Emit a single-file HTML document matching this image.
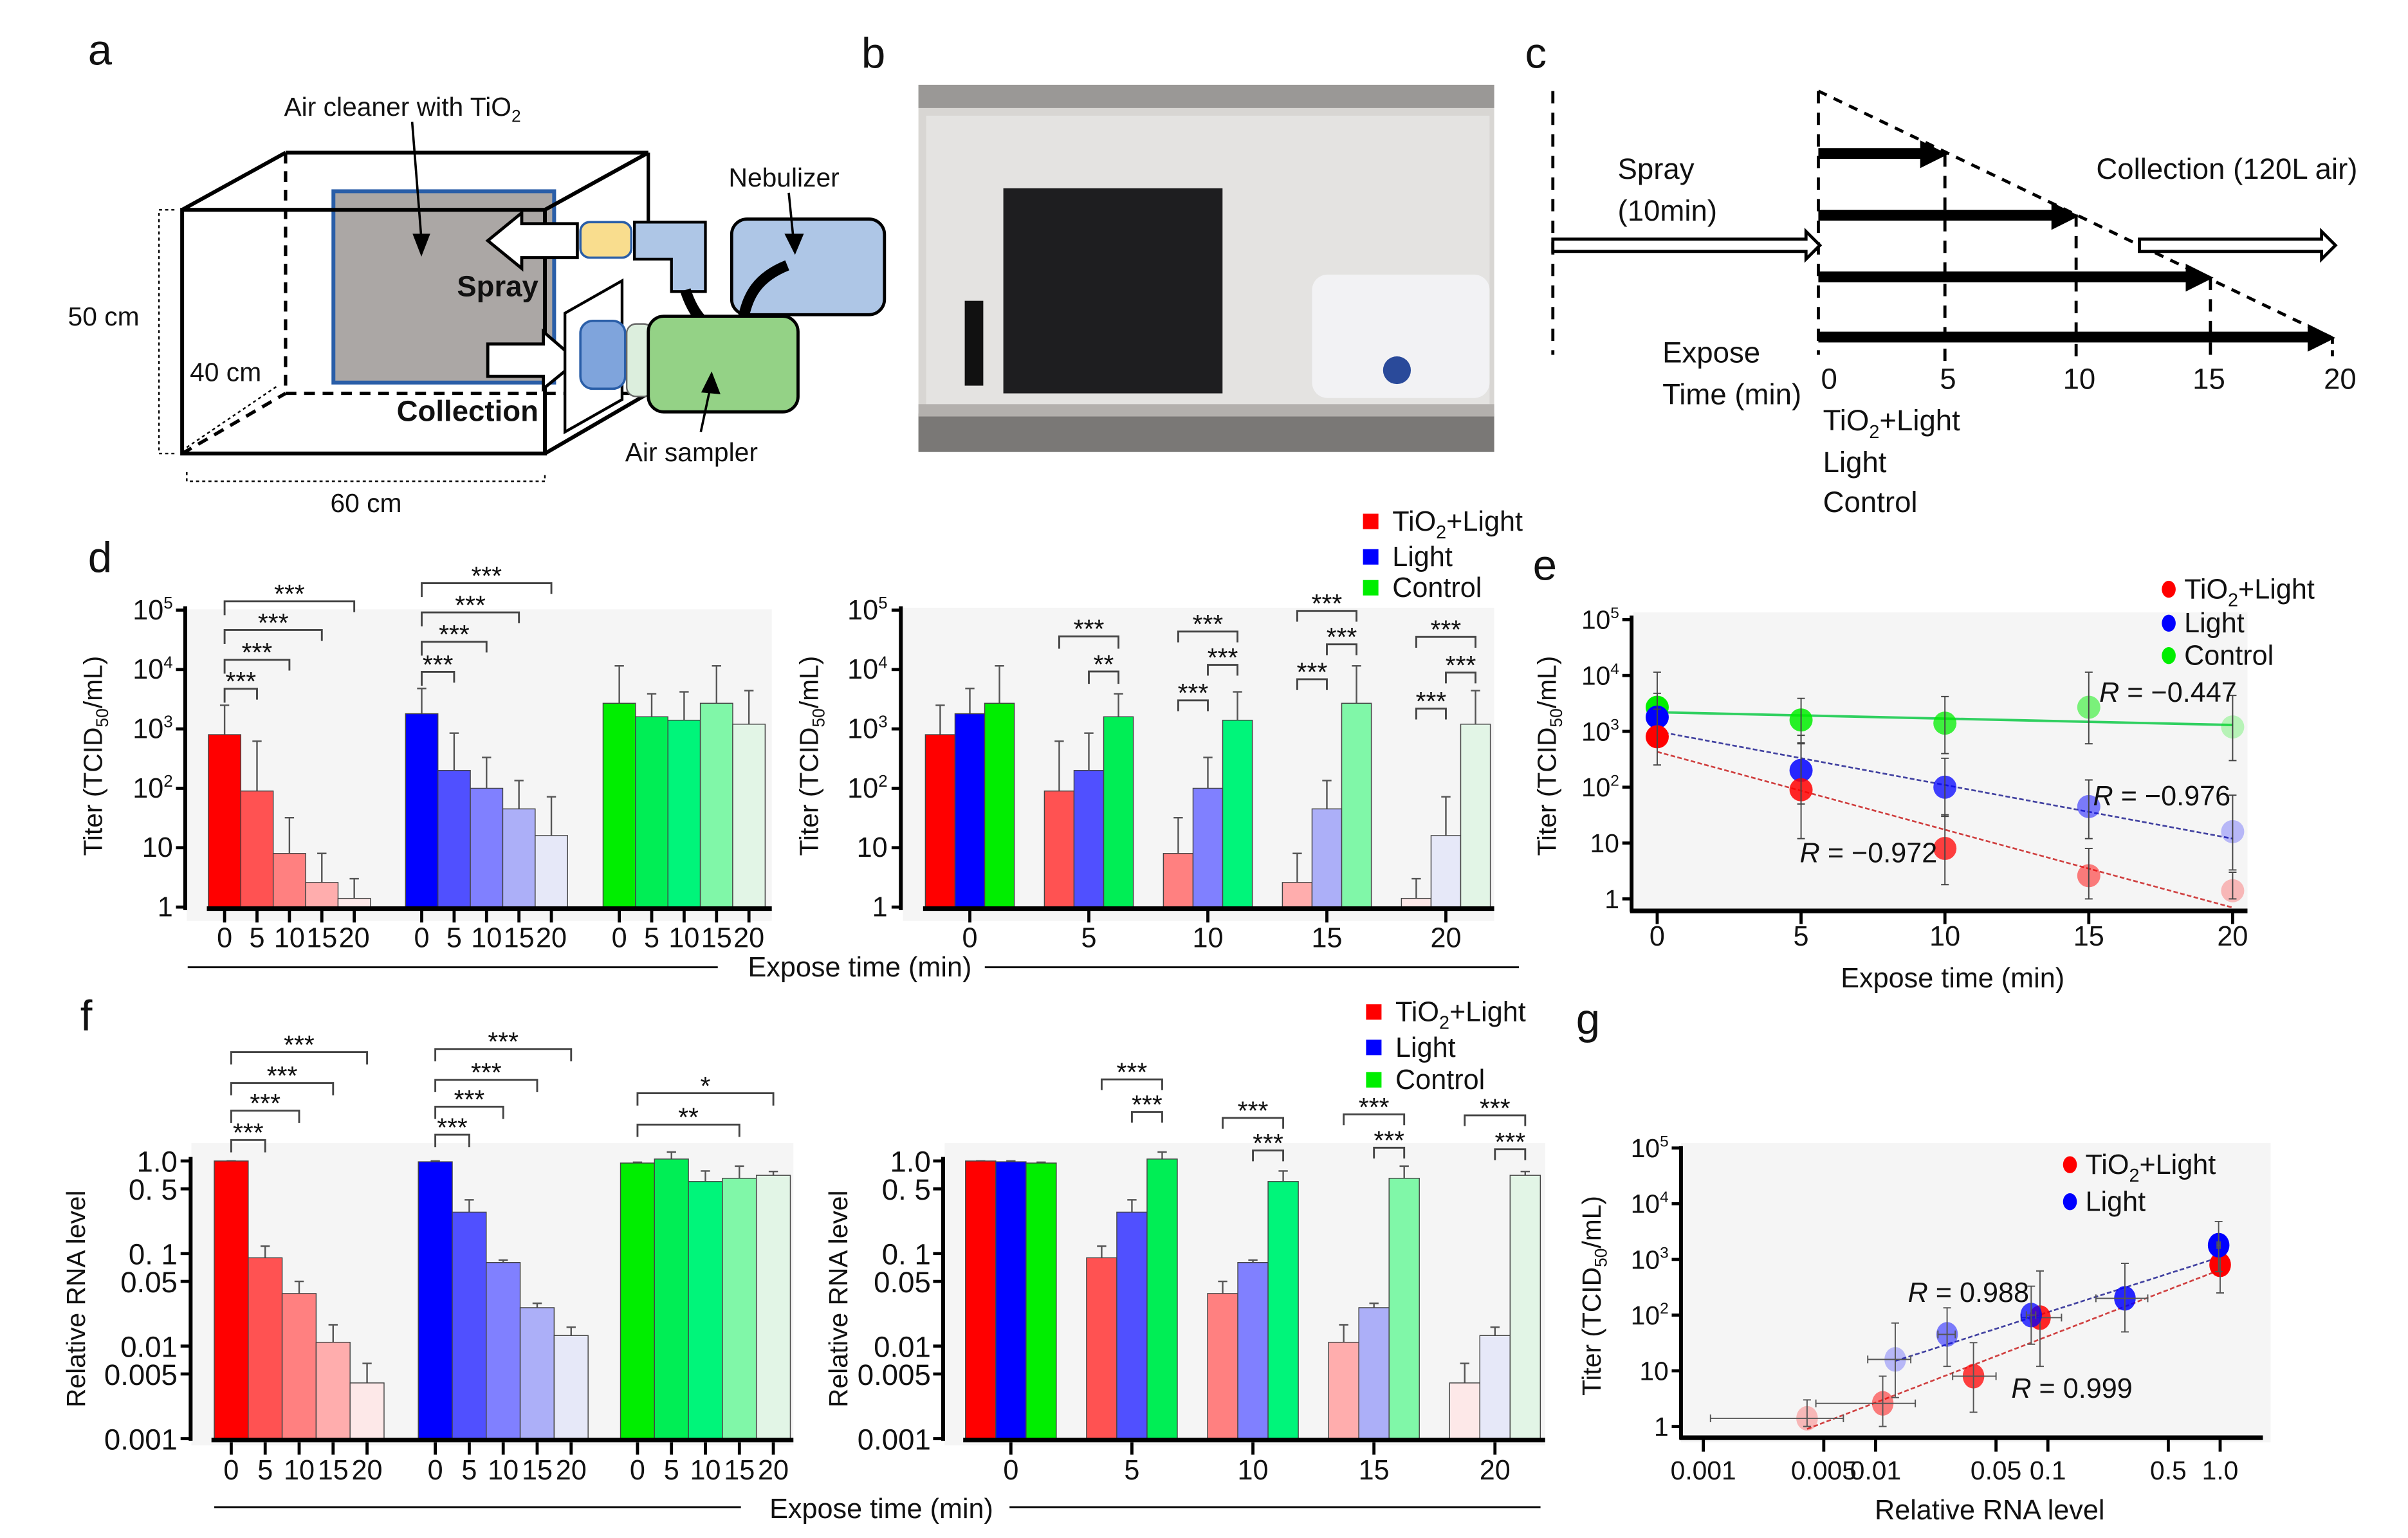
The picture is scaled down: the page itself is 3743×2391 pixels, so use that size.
<!DOCTYPE html>
<html><head><meta charset="utf-8"><style>
html,body{margin:0;padding:0;background:#fff;}
svg{display:block;}
text{font-family:"Liberation Sans Narrow","Liberation Sans",sans-serif;fill:#111;}
.w{font-family:"Liberation Sans",sans-serif;}
</style></head><body>
<svg id="fig" xmlns="http://www.w3.org/2000/svg" width="3743" height="2391" viewBox="0 0 1560 997" preserveAspectRatio="none">
<rect x="0" y="0" width="1560" height="997" fill="#fff"/>
<!-- Panel a -->
<g fill="none" stroke="#000">
<text x="57" y="42" font-size="28" stroke="none">a</text>
<rect x="216" y="124" width="143" height="124" fill="#aba7a5" stroke="#2a5ea8" stroke-width="2.5"/>
<line x1="185" y1="99" x2="420" y2="99" stroke-width="2.5"/>
<line x1="185" y1="99" x2="185" y2="255" stroke-width="2.2" stroke-dasharray="7,5"/>
<line x1="185" y1="255" x2="420" y2="255" stroke-width="2.2" stroke-dasharray="7,5"/>
<line x1="420" y1="99" x2="420" y2="143" stroke-width="2.2"/>
<line x1="118" y1="136" x2="185" y2="99" stroke-width="2.5"/>
<line x1="353" y1="136" x2="420" y2="99" stroke-width="2.5"/>
<line x1="118" y1="294" x2="185" y2="255" stroke-width="2.2" stroke-dasharray="7,5"/>
<line x1="353" y1="294" x2="420" y2="255" stroke-width="2.5"/>
<rect x="118" y="136" width="235" height="158" stroke-width="2.5"/>
<path d="M374,145 L338,145 L338,138 L316,156 L338,174 L338,167 L374,167 Z" fill="#fff" stroke-width="2"/>
<path d="M316,223 L352,223 L352,215 L374,234 L352,252 L352,244 L316,244 Z" fill="#fff" stroke-width="2"/>
<path d="M366,203 L403,182 L403,259 L366,280 Z" fill="#fff" stroke-width="1.8"/>
<rect x="376" y="144" width="33" height="23" rx="6" fill="#f9dd8e" stroke="#2a5ea8" stroke-width="1.5"/>
<path d="M411,144 L457,144 L457,189 L435,189 L435,168 L411,168 Z" fill="#aec6e6" stroke="#000" stroke-width="1.8"/>
<rect x="474" y="142" width="99" height="62" rx="10" fill="#aec6e6" stroke-width="2"/>
<path d="M510,172 C490,180 485,192 482,204 C478,218 455,222 444,188" stroke-width="7"/>
<rect x="376" y="208" width="29" height="44" rx="8" fill="#7fa4dc" stroke="#2a5ea8" stroke-width="1.5"/>
<rect x="406" y="210" width="17" height="47" rx="6" fill="#dceedd" stroke="#666" stroke-width="1"/>
<rect x="420" y="205" width="97" height="62" rx="10" fill="#94d286" stroke-width="2"/>
<line x1="267" y1="79" x2="273" y2="155" stroke-width="1.5"/><path d="M268,152 L273,165 L278,152 Z" fill="#000"/>
<line x1="511" y1="125" x2="514" y2="155" stroke-width="1.5"/><path d="M509,152 L515,164 L520,152 Z" fill="#000"/>
<line x1="454" y1="280" x2="460" y2="252" stroke-width="1.5"/><path d="M455,254 L461,242 L466,255 Z" fill="#000"/>
<path d="M113,136 L103,136 L103,294 L113,294" stroke-width="1" stroke-dasharray="2,2"/>
<path d="M121,306 L121,312 L353,312 L353,306" stroke-width="1" stroke-dasharray="2,2"/>
<line x1="121" y1="290" x2="180" y2="250" stroke-width="1" stroke-dasharray="2,2"/>
<g stroke="none">
<text x="184" y="75" font-size="17">Air cleaner with TiO<tspan font-size="11" dy="4">2</tspan></text>
<text x="472" y="121" font-size="17">Nebulizer</text>
<text x="296" y="192" font-size="19" font-weight="bold">Spray</text>
<text x="257" y="273" font-size="19" font-weight="bold">Collection</text>
<text x="405" y="299" font-size="17">Air sampler</text>
<text x="44" y="211" font-size="17">50 cm</text>
<text x="123" y="247" font-size="17">40 cm</text>
<text x="214" y="332" font-size="17">60 cm</text>
</g>
</g>
<!-- Panel b photo -->
<g>
<text x="558" y="44" font-size="28">b</text>
<rect x="595" y="55" width="373" height="238" fill="#d8d6d3"/>
<rect x="595" y="55" width="373" height="15" fill="#9a9896"/>
<rect x="600" y="75" width="365" height="195" fill="#e4e3e1"/>
<rect x="650" y="122" width="142" height="133" fill="#1e1e20"/>
<rect x="625" y="195" width="12" height="55" fill="#111"/>
<rect x="850" y="178" width="115" height="80" rx="10" fill="#f2f2f4"/>
<circle cx="905" cy="240" r="9" fill="#2a4a9a"/>
<rect x="595" y="268" width="373" height="25" fill="#7a7876"/>
<rect x="595" y="262" width="373" height="8" fill="#b3b0ad"/>
</g>
<!-- Panel c -->
<g stroke="#000" fill="none">
<text x="988" y="44" font-size="28" stroke="none">c</text>
<line x1="1006" y1="59" x2="1006" y2="230" stroke-width="2" stroke-dasharray="8,6"/>
<line x1="1178" y1="59" x2="1178" y2="230" stroke-width="2" stroke-dasharray="8,6"/>
<line x1="1178" y1="59" x2="1511" y2="219" stroke-width="2" stroke-dasharray="6,5"/>
<line x1="1260" y1="100" x2="1260" y2="234" stroke-width="2" stroke-dasharray="8,6"/>
<line x1="1345" y1="139" x2="1345" y2="234" stroke-width="2" stroke-dasharray="8,6"/>
<line x1="1432" y1="180" x2="1432" y2="234" stroke-width="2" stroke-dasharray="8,6"/>
<line x1="1511" y1="219" x2="1511" y2="234" stroke-width="2" stroke-dasharray="4,4"/>
<g fill="#000" stroke="none">
<rect x="1178" y="96" width="68" height="7"/><path d="M1244,91 L1262,100 L1244,109 Z"/>
<rect x="1178" y="136" width="153" height="7"/><path d="M1329,131 L1347,140 L1329,149 Z"/>
<rect x="1178" y="176" width="240" height="7"/><path d="M1416,171 L1434,180 L1416,189 Z"/>
<rect x="1178" y="215" width="319" height="7"/><path d="M1495,210 L1513,219 L1495,228 Z"/>
</g>
<path d="M1006,155 L1170,155 L1170,150 L1179,159 L1170,168 L1170,163 L1006,163 Z" fill="#fff" stroke-width="2"/>
<path d="M1386,155 L1504,155 L1504,150 L1513,159 L1504,168 L1504,163 L1386,163 Z" fill="#fff" stroke-width="2"/>
<g stroke="none" font-size="19">
<text x="1048" y="116">Spray</text>
<text x="1048" y="143">(10min)</text>
<text x="1358" y="116">Collection (120L air)</text>
<text x="1077" y="235">Expose</text>
<text x="1077" y="262">Time (min)</text>
<text x="1185" y="252" text-anchor="middle">0</text>
<text x="1262" y="252" text-anchor="middle">5</text>
<text x="1347" y="252" text-anchor="middle">10</text>
<text x="1431" y="252" text-anchor="middle">15</text>
<text x="1516" y="252" text-anchor="middle">20</text>
<text x="1181" y="279">TiO<tspan font-size="12" dy="5">2</tspan><tspan dy="-5">+Light</tspan></text>
<text x="1181" y="306">Light</text>
<text x="1181" y="332">Control</text>
</g>
</g>
</svg>
<script>
// ---------- data ----------
const times = [0, 5, 10, 15, 20];
const titerTiO2 = [800, 90, 8, 2.6, 1.4];
const titerTiO2Hi = [2500, 620, 32, 8, 3];
const titerTiO2Lo = [250, 12, 1.8, 1.0, 1.0];
const titerLight = [1800, 200, 100, 45, 16];
const titerLightHi = [4800, 850, 330, 135, 72];
const titerLightLo = [600, 50, 30, 12, 3.3];
const titerControl = [2700, 1600, 1400, 2700, 1200];
const titerControlHi = [11500, 3900, 4200, 11500, 4400];
const titerControlLo = [600, 600, 400, 600, 300];
const rnaTiO2 = [1.0, 0.09, 0.037, 0.011, 0.004];
const rnaTiO2Hi = [1.0, 0.12, 0.05, 0.017, 0.0065];
const rnaTiO2Lo = [1.0, 0.07, 0.028, 0.0045, 0.0011];
const rnaLight = [0.98, 0.28, 0.08, 0.026, 0.013];
const rnaLightHi = [1.0, 0.38, 0.085, 0.029, 0.016];
const rnaLightLo = [0.96, 0.19, 0.075, 0.023, 0.009];
const rnaControl = [0.95, 1.05, 0.6, 0.65, 0.7];
const rnaControlHi = [0.97, 1.25, 0.78, 0.88, 0.77];
const fitEStart = [430, 1000, 2200];
const fitEEnd = [0.7, 12, 1300];
const fitGX0 = [0.004, 0.013];
const fitGY0 = [0.9, 15];
const fitGX1 = [1, 1];
const fitGY1 = [650, 1100];
const titerTicks = [1, 10, 100, 1000, 10000, 100000];
const titerTickLabels = ["1", "10", "10|2", "10|3", "10|4", "10|5"];
const rnaTicks = [1, 0.5, 0.1, 0.05, 0.01, 0.005, 0.001];
const rnaTickLabels = ["1.0", "0. 5", "0. 1", "0.05", "0.01", "0.005", "0.001"];
const seriesNames = ["TiO2+Light", "Light", "Control"];
const palettes = [
  ['#ff0000','#ff5252','#ff8080','#ffadad','#fde8e8'],
  ['#0000ff','#5050ff','#8080ff','#acaff8','#e6e8f8'],
  ['#00ee00','#00ee55','#00f57a','#80f7a8','#e2f5e6']
];
const pointOpacity = [1, 0.85, 0.75, 0.5, 0.25];

const NS = 'http://www.w3.org/2000/svg';
const svg = document.getElementById('fig');
function mk(tag, attrs, parent) {
  const e = document.createElementNS(NS, tag);
  for (const k in attrs) e.setAttribute(k, attrs[k]);
  (parent || svg).appendChild(e);
  return e;
}
function txt(x, y, s, size, anchor, cls) {
  const t = mk('text', {x: x, y: y, 'font-size': size, 'text-anchor': anchor || 'start'});
  if (cls) t.setAttribute('class', cls);
  t.textContent = s;
  
  
  return t;
}
function supLabel(x, y, lab, size) {
  const t = mk('text', {x: x, y: y, 'font-size': size, 'text-anchor': 'end'});
  
  
  const p = lab.split('|');
  const a = mk('tspan', {}, t); a.textContent = p[0];
  if (p[1]) { const b = mk('tspan', {dy: -7, 'font-size': size * 0.6}, t); b.textContent = p[1]; }
  return t;
}
function bg(x, y, w, h, name) {
  const r = mk('rect', {x: x, y: y, width: w, height: h, fill: '#f5f5f5'});
  
  
}
function line(x1, y1, x2, y2, sw, col, name) {
  const l = mk('line', {x1: x1, y1: y1, x2: x2, y2: y2, stroke: col || '#000', 'stroke-width': sw});
  
  
  return l;
}
function bar(x, w, yTop, yBase, color, name) {
  const r = mk('rect', {x: x, y: yTop, width: w, height: yBase - yTop, fill: color, stroke: '#444', 'stroke-width': 0.6});
  
  
}
function errUp(x, y1, y2) {
  const l = mk('path', {d: `M${x},${y1}L${x},${y2}M${x-3},${y2}L${x+3},${y2}`, stroke: '#555', 'stroke-width': 1, fill: 'none'});
  
  
}
function bracket(x1, x2, y, d1, d2, label) {
  const p = mk('path', {d: `M${x1},${y+d1}L${x1},${y}L${x2},${y}L${x2},${y+d2}`, stroke: '#444', 'stroke-width': 1.2, fill: 'none'});
  
  
  const t = txt((x1 + x2) / 2, y + 1, label, 17, 'middle', 'w');
  
}
function yTitle(x, cy, rna) {
  const t = mk('text', {x: 0, y: 0, 'font-size': 17, 'text-anchor': 'middle', transform: `translate(${x},${cy}) rotate(-90)`, class: 'w'});
  
  
  if (rna) { t.textContent = 'Relative RNA level'; return; }
  const a = mk('tspan', {}, t); a.textContent = 'Titer (TCID';
  const b = mk('tspan', {dy: 4, 'font-size': 11}, t); b.textContent = '50';
  const c = mk('tspan', {dy: -4}, t); c.textContent = '/mL)';
}
function legendSquare(x, y, i) {
  const r = mk('rect', {x: x, y: y - 5, width: 10, height: 10, fill: palettes[i][0]});
  
  
  legendText(x + 19, y, i);
}
function legendDot(x, y, i) {
  const c = mk('ellipse', {cx: x, cy: y, rx: 4.5, ry: 5.5, fill: palettes[i][0]});
  
  
  legendText(x + 10, y, i);
}
function legendText(x, y, i) {
  const t = mk('text', {x: x, y: y + 6, 'font-size': 18});
  
  
  if (i === 0) {
    const a = mk('tspan', {}, t); a.textContent = 'TiO';
    const b = mk('tspan', {dy: 5, 'font-size': 12}, t); b.textContent = '2';
    const c = mk('tspan', {dy: -5}, t); c.textContent = '+Light';
  } else t.textContent = seriesNames[i];
}
const L = Math.log10;
const seriesT = [titerTiO2, titerLight, titerControl];
const seriesTHi = [titerTiO2Hi, titerLightHi, titerControlHi];
const seriesTLo = [titerTiO2Lo, titerLightLo, titerControlLo];
const seriesR = [rnaTiO2, rnaLight, rnaControl];
const seriesRHi = [rnaTiO2Hi, rnaLightHi, rnaControlHi];

// ---------- panel d ----------
txt(57, 371, 'd', 28, 'start', 'w');
const yD = v => 588 - L(v) * 38.5;
bg(121, 395, 379, 202, 'panel-d-left-plot-area');
bg(585, 394, 383, 203, 'panel-d-right-plot-area');
const dLeftStarts = [135, 262.7, 390.7], dW = 21;
for (let s = 0; s < 3; s++) for (let i = 0; i < times.length; i++) {
  const x = dLeftStarts[s] + i * dW;
  errUp(x + dW / 2, yD(seriesT[s][i]), yD(seriesTHi[s][i]));
  bar(x, dW, yD(seriesT[s][i]), 588, palettes[s][i], 'bar-d-left-' + s + '-' + times[i]);
}
const dRStart = 599.5, dRGap = 77.1, dRW = 19.2;
for (let i = 0; i < times.length; i++) for (let s = 0; s < 3; s++) {
  const x = dRStart + i * dRGap + s * dRW;
  errUp(x + dRW / 2, yD(seriesT[s][i]), yD(seriesTHi[s][i]));
  bar(x, dRW, yD(seriesT[s][i]), 588, palettes[s][i], 'bar-d-right-' + s + '-' + times[i]);
}
line(120, 393, 120, 590, 2.5); line(134, 589, 500, 589, 3);
line(583.6, 393, 583.6, 590, 2.5); line(598, 589, 968, 589, 3);
titerTicks.forEach((v, k) => {
  line(114, yD(v), 120, yD(v), 2); supLabel(112, yD(v) + 6, titerTickLabels[k], 18);
  line(577.6, yD(v), 583.6, yD(v), 2); supLabel(575, yD(v) + 6, titerTickLabels[k], 18);
});
for (let s = 0; s < 3; s++) for (let i = 0; i < times.length; i++) {
  const cx = dLeftStarts[s] + (i + 0.5) * dW;
  line(cx, 590, cx, 598, 2, '#000', 'x-tick');
  txt(cx, 614, String(times[i]), 18, 'middle');
}
for (let i = 0; i < times.length; i++) {
  const cx = dRStart + i * dRGap + 1.5 * dRW;
  line(cx, 590, cx, 598, 2, '#000', 'x-tick');
  txt(cx, 614, String(times[i]), 18, 'middle');
}
yTitle(66, 490); yTitle(530, 490);
line(121.6, 627, 465, 627, 1.2, '#000', 'x-axis-rule');
txt(557, 633, 'Expose time (min)', 18, 'middle');
line(638, 627, 984, 627, 1.2, '#000', 'x-axis-rule');
// d brackets
const cL = (s, i) => dLeftStarts[s] + (i + 0.5) * dW;
[[446.5, 1], [427.7, 2], [408.4, 3], [389.8, 4]].forEach(b => bracket(cL(0, 0), cL(0, b[1]), b[0], 9, 7, '***'));
[[435.5, 1], [416, 2], [397, 3], [378, 4]].forEach(b => bracket(cL(1, 0), cL(1, b[1]), b[0], 9, 7, '***'));
const cR = (i, s) => dRStart + i * dRGap + (s + 0.5) * dRW;
bracket(cR(1, 0), cR(1, 2), 412.5, 8, 8, '***'); bracket(cR(1, 1), cR(1, 2), 435.3, 8, 8, '**');
bracket(cR(2, 0), cR(2, 1), 454, 7, 7, '***'); bracket(cR(2, 1), cR(2, 2), 431, 7, 7, '***'); bracket(cR(2, 0), cR(2, 2), 409.4, 7, 7, '***');
bracket(cR(3, 0), cR(3, 1), 440.3, 7, 7, '***'); bracket(cR(3, 1), cR(3, 2), 417.7, 7, 7, '***'); bracket(cR(3, 0), cR(3, 2), 396, 7, 7, '***');
bracket(cR(4, 0), cR(4, 1), 459.4, 7, 7, '***'); bracket(cR(4, 1), cR(4, 2), 436, 7, 7, '***'); bracket(cR(4, 0), cR(4, 2), 412.9, 7, 7, '***');
legendSquare(883, 338, 0); legendSquare(883, 361, 1); legendSquare(883, 381, 2);

// ---------- panel e ----------
txt(993, 376, 'e', 28, 'start', 'w');
const xE = t => 1073.6 + t * 18.64;
const yE = v => 582.7 - L(v) * 36.2;
bg(1058, 397, 398, 195, 'panel-e-plot-area');
for (let s = 2; s >= 0; s--) {
  const f = mk('line', {x1: xE(times[0]), y1: yE(fitEStart[s]), x2: xE(times[4]), y2: yE(fitEEnd[s]), stroke: ['#d04040', '#4040a0', '#30d060'][s], 'stroke-width': s === 2 ? 1.6 : 1.1, 'stroke-dasharray': s === 2 ? 'none' : '3,1.5'});
  
  
}
for (let s = 2; s >= 0; s--) for (let i = 0; i < times.length; i++) {
  const c = mk('ellipse', {cx: xE(times[i]), cy: yE(seriesT[s][i]), rx: 7.5, ry: 7.5, fill: palettes[s][0], 'fill-opacity': pointOpacity[i]});
  
  
  const x = xE(times[i]), y1 = yE(seriesTLo[s][i]), y2 = yE(seriesTHi[s][i]);
  const e = mk('path', {d: `M${x},${y1}L${x},${y2}M${x-2.5},${y1}L${x+2.5},${y1}M${x-2.5},${y2}L${x+2.5},${y2}`, stroke: '#444', 'stroke-width': 0.8, fill: 'none'});
  
  
}
line(1057, 399, 1057, 591, 2.5); line(1056, 590.5, 1456, 590.5, 3);
titerTicks.forEach((v, k) => { line(1051, yE(v), 1057, yE(v), 2); supLabel(1049, yE(v) + 6, titerTickLabels[k], 17); });
times.forEach(t => { line(xE(t), 591, xE(t), 599, 2, '#000', 'x-tick'); txt(xE(t), 613, String(t), 18, 'middle'); });
yTitle(1008, 490);
txt(1265, 640, 'Expose time (min)', 18, 'middle');
[[1360, 455, '−0.447'], [1356, 522, '−0.976'], [1166, 559, '−0.972']].forEach(r => {
  const t = mk('text', {x: r[0], y: r[1], 'font-size': 18});
  
  
  const a = mk('tspan', {'font-style': 'italic'}, t); a.textContent = 'R';
  const b = mk('tspan', {}, t); b.textContent = ' = ' + r[2];
});
legendDot(1405, 382, 0); legendDot(1405, 404, 1); legendDot(1405, 425, 2);

// ---------- panel f ----------
txt(52, 668, 'f', 28, 'start', 'w');
const yF = v => 752.6 - L(v) * 60;
bg(124, 741, 390, 196, 'panel-f-left-plot-area');
bg(612, 741, 389, 196, 'panel-f-right-plot-area');
const fLeftStarts = [138.8, 271, 402], fW = 22;
for (let s = 0; s < 3; s++) for (let i = 0; i < times.length; i++) {
  const x = fLeftStarts[s] + i * fW;
  errUp(x + fW / 2, yF(seriesR[s][i]), yF(seriesRHi[s][i]));
  bar(x, fW, yF(seriesR[s][i]), 932.6, palettes[s][i], 'bar-f-left-' + s + '-' + times[i]);
}
const fRStart = 625.5, fRGap = 78.4, fRW = 19.6;
for (let i = 0; i < times.length; i++) for (let s = 0; s < 3; s++) {
  const x = fRStart + i * fRGap + s * fRW;
  errUp(x + fRW / 2, yF(seriesR[s][i]), yF(seriesRHi[s][i]));
  bar(x, fRW, yF(seriesR[s][i]), 932.6, palettes[s][i], 'bar-f-right-' + s + '-' + times[i]);
}
line(123.5, 750, 123.5, 934, 2.5); line(137, 933.5, 514, 933.5, 3);
line(611, 750, 611, 934, 2.5); line(624, 933.5, 1001, 933.5, 3);
rnaTicks.forEach((v, k) => {
  line(117, yF(v), 123.5, yF(v), 2); supLabel(115, yF(v) + 7, rnaTickLabels[k], 19);
  line(604.5, yF(v), 611, yF(v), 2); supLabel(603, yF(v) + 7, rnaTickLabels[k], 19);
});
for (let s = 0; s < 3; s++) for (let i = 0; i < times.length; i++) {
  const cx = fLeftStarts[s] + (i + 0.5) * fW;
  line(cx, 935, cx, 943, 2, '#000', 'x-tick');
  txt(cx, 959, String(times[i]), 18, 'middle');
}
for (let i = 0; i < times.length; i++) {
  const cx = fRStart + i * fRGap + 1.5 * fRW;
  line(cx, 935, cx, 943, 2, '#000', 'x-tick');
  txt(cx, 959, String(times[i]), 18, 'middle');
}
yTitle(55, 842, true); yTitle(549, 842, true);
line(138.8, 977, 480, 977, 1.2, '#000', 'x-axis-rule');
txt(571, 984, 'Expose time (min)', 18, 'middle');
line(654, 977, 998, 977, 1.2, '#000', 'x-axis-rule');
const fcL = (s, i) => fLeftStarts[s] + (i + 0.5) * fW;
[[739, 1], [720, 2], [702, 3], [682, 4]].forEach(b => bracket(fcL(0, 0), fcL(0, b[1]), b[0], 8, 8, '***'));
[[735.6, 1], [717.4, 2], [700, 3], [680, 4]].forEach(b => bracket(fcL(1, 0), fcL(1, b[1]), b[0], 8, 8, '***'));
bracket(fcL(2, 0), fcL(2, 3), 729, 8, 8, '**'); bracket(fcL(2, 0), fcL(2, 4), 708.7, 8, 8, '*');
const fcR = (i, s) => fRStart + i * fRGap + (s + 0.5) * fRW;
bracket(fcR(1, 0), fcR(1, 2), 699.7, 7, 7, '***'); bracket(fcR(1, 1), fcR(1, 2), 720.8, 7, 7, '***');
bracket(fcR(2, 0), fcR(2, 2), 724.7, 7, 7, '***'); bracket(fcR(2, 1), fcR(2, 2), 745.8, 7, 7, '***');
bracket(fcR(3, 0), fcR(3, 2), 722.4, 7, 7, '***'); bracket(fcR(3, 1), fcR(3, 2), 744, 7, 7, '***');
bracket(fcR(4, 0), fcR(4, 2), 723, 7, 7, '***'); bracket(fcR(4, 1), fcR(4, 2), 745, 7, 7, '***');
legendSquare(885, 656, 0); legendSquare(885, 679, 1); legendSquare(885, 700, 2);

// ---------- panel g ----------
txt(1021, 670, 'g', 28, 'start', 'w');
const xG = r => 1438.3 + L(r) * 111.6;
const yG = v => 924.7 - L(v) * 36.1;
const gXTicks = [0.001, 0.005, 0.01, 0.05, 0.1, 0.5, 1];
const gXLabels = ["0.001", "0.005", "0.01", "0.05", "0.1", "0.5", "1.0"];
const seriesRLo = [rnaTiO2Lo, rnaLightLo];
bg(1089, 741, 382, 194, 'panel-g-plot-area');
for (let s = 0; s < 2; s++) {
  const f = mk('line', {x1: xG(fitGX0[s]), y1: yG(fitGY0[s]), x2: xG(fitGX1[s]), y2: yG(fitGY1[s]), stroke: ['#d04040', '#4040a0'][s], 'stroke-width': 1.1, 'stroke-dasharray': '3,1.5'});
  
  
}
for (let s = 0; s < 2; s++) for (let i = times.length - 1; i >= 0; i--) {
  const cx = xG(seriesR[s][i]), cy = yG(seriesT[s][i]);
  const c = mk('ellipse', {cx: cx, cy: cy, rx: 7, ry: 8, fill: palettes[s][0], 'fill-opacity': pointOpacity[i]});
  
  
  const y1 = yG(seriesTLo[s][i]), y2 = yG(seriesTHi[s][i]);
  const x1 = xG(seriesRLo[s][i]), x2 = xG(seriesRHi[s][i]);
  const e = mk('path', {d: `M${cx},${y1}L${cx},${y2}M${cx-2.5},${y1}L${cx+2.5},${y1}M${cx-2.5},${y2}L${cx+2.5},${y2}M${x1},${cy}L${x2},${cy}M${x1},${cy-2.5}L${x1},${cy+2.5}M${x2},${cy-2.5}L${x2},${cy+2.5}`, stroke: '#555', 'stroke-width': 0.8, fill: 'none'});
  
  
}
line(1089, 743, 1089, 933, 2.5); line(1088, 932, 1466, 932, 3);
titerTicks.forEach((v, k) => { line(1083, yG(v), 1089, yG(v), 2); supLabel(1081, yG(v) + 6, titerTickLabels[k], 17); });
gXTicks.forEach((r, k) => { line(xG(r), 933, xG(r), 941, 2, '#000', 'x-tick'); txt(xG(r), 959, gXLabels[k], 17, 'middle'); });
yTitle(1037, 840);
txt(1289, 985, 'Relative RNA level', 18, 'middle');
[[1236, 844, '0.988'], [1303, 906, '0.999']].forEach(r => {
  const t = mk('text', {x: r[0], y: r[1], 'font-size': 18});
  
  
  const a = mk('tspan', {'font-style': 'italic'}, t); a.textContent = 'R';
  const b = mk('tspan', {}, t); b.textContent = ' = ' + r[2];
});
legendDot(1341, 755, 0); legendDot(1341, 779, 1);
</script>
</body></html>
